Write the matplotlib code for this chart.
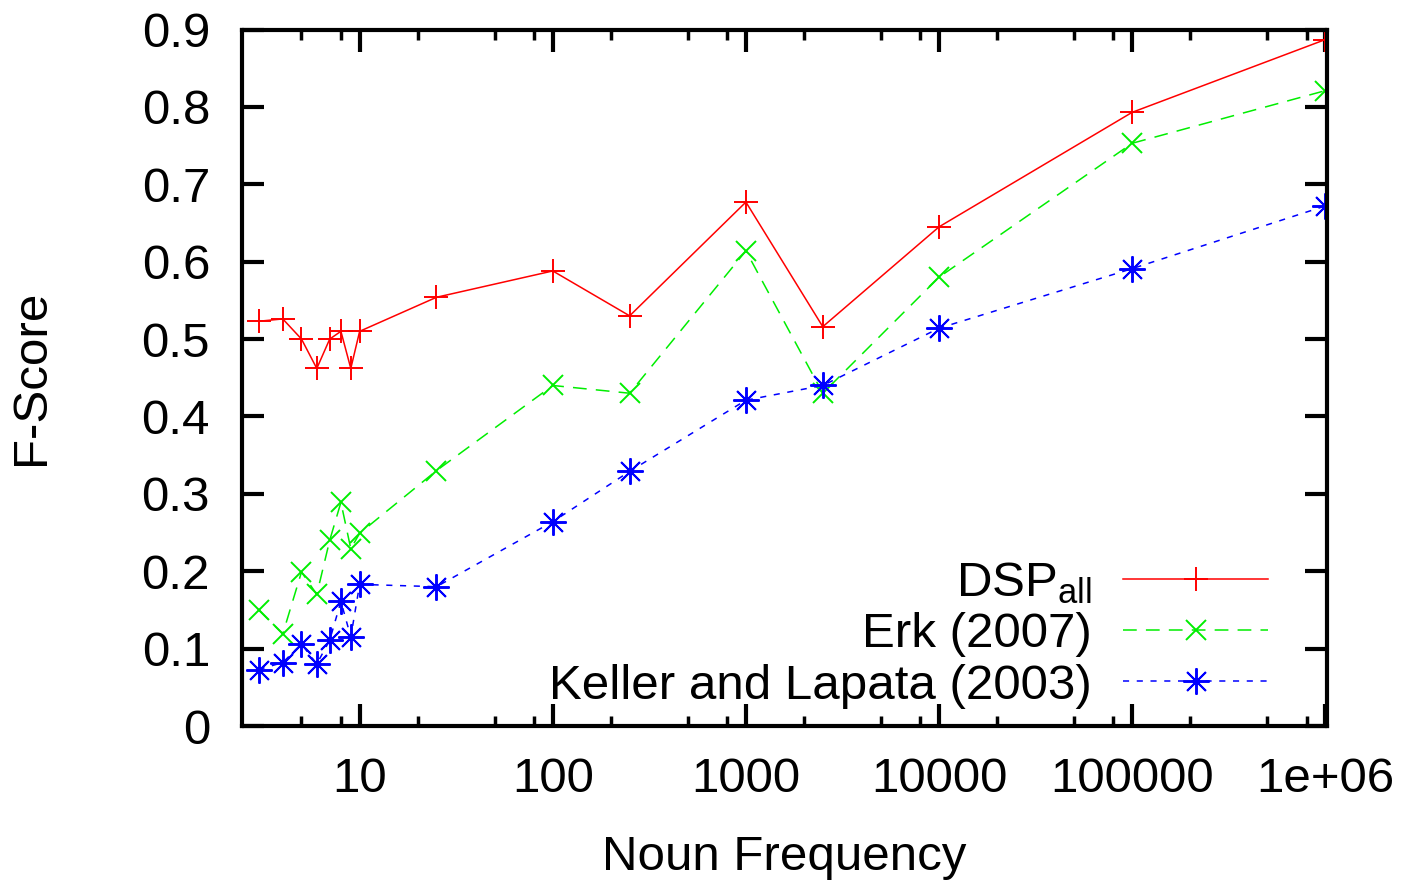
import matplotlib
matplotlib.use("Agg")
import matplotlib.pyplot as plt
from matplotlib.ticker import FixedLocator, NullFormatter, FixedFormatter

plt.rcParams['font.family'] = ['Liberation Sans', 'DejaVu Sans']
plt.rcParams['mathtext.fontset'] = 'custom'
plt.rcParams['mathtext.rm'] = 'Liberation Sans'
plt.rcParams['mathtext.it'] = 'Liberation Sans'

# Data
freq = [3, 4, 5, 6, 7, 8, 9, 10, 25, 100, 250, 1000, 2500, 10000, 100000, 1000000]
dsp_all = [0.523, 0.526, 0.500, 0.462, 0.500, 0.510, 0.462, 0.510,
           0.554, 0.588, 0.530, 0.677, 0.516, 0.645, 0.793, 0.887]
erk_2007 = [0.150, 0.119, 0.199, 0.170, 0.240, 0.289, 0.229, 0.249,
            0.330, 0.440, 0.430, 0.614, 0.430, 0.580, 0.753, 0.821]
keller_lapata_2003 = [0.073, 0.082, 0.106, 0.080, 0.111, 0.161, 0.115, 0.183,
                      0.180, 0.264, 0.329, 0.421, 0.440, 0.514, 0.591, 0.672]

labels = [r'DSP$_{\mathrm{all}}$', 'Erk (2007)', 'Keller and Lapata (2003)']
x_major = [10, 100, 1000, 10000, 100000, 1000000]
x_major_labels = ['10', '100', '1000', '10000', '100000', '1e+06']
y_ticks = [0, 0.1, 0.2, 0.3, 0.4, 0.5, 0.6, 0.7, 0.8, 0.9]
y_tick_labels = ['0', '0.1', '0.2', '0.3', '0.4', '0.5', '0.6', '0.7', '0.8', '0.9']

FS = 35.5

fig = plt.figure(figsize=(14.08, 8.8), dpi=100)
ax = fig.add_axes([242/1408, 1-726/880, (1327-242)/1408, (726-29.5)/880])

ax.plot(freq, dsp_all, color='#ff0000', lw=1.1, ls='-', marker='+', ms=17, mew=1.4,
        label=labels[0])
ax.plot(freq, erk_2007, color='#00ee00', lw=1.1, ls=(0, (9, 6)), marker='x', ms=15, mew=1.4,
        label=labels[1])
ax.plot(freq, keller_lapata_2003, color='#0000ff', lw=1.1, ls=(0, (4, 5)), marker=(8, 2, 0),
        ms=19, mew=1.4, label=labels[2])

ax.set_xscale('log')
ax.set_xlim(2.46, 1.02e6)
ax.set_ylim(0, 0.9)

ax.xaxis.set_major_locator(FixedLocator(x_major))
ax.xaxis.set_major_formatter(FixedFormatter(x_major_labels))
minor = []
for d in [1, 10, 100, 1000, 10000, 100000]:
    for m in [2, 5, 8]:
        minor.append(m * d)
ax.xaxis.set_minor_locator(FixedLocator(minor))
ax.xaxis.set_minor_formatter(NullFormatter())
ax.set_yticks(y_ticks)
ax.set_yticklabels(y_tick_labels)

ax.tick_params(which='major', direction='in', length=16, width=3, labelsize=FS,
               top=True, right=True)
ax.tick_params(which='minor', direction='in', length=7.5, width=2.5, top=True, right=True)
ax.tick_params(axis='x', which='major', pad=22)
ax.tick_params(axis='y', which='major', pad=23)
for s in ax.spines.values():
    s.set_linewidth(3)

ax.set_xlabel('Noun Frequency', fontsize=FS, labelpad=24)
ax.set_ylabel('F-Score', fontsize=FS, labelpad=63)

leg = ax.legend(loc='lower right', bbox_to_anchor=((1268-242)/1085, 0.025), markerfirst=False,
                frameon=False, fontsize=FS, handlelength=2.94, handletextpad=0.63,
                labelspacing=0.13, borderpad=0, borderaxespad=0)

fig.savefig('out.png', dpi=100, facecolor='white')
